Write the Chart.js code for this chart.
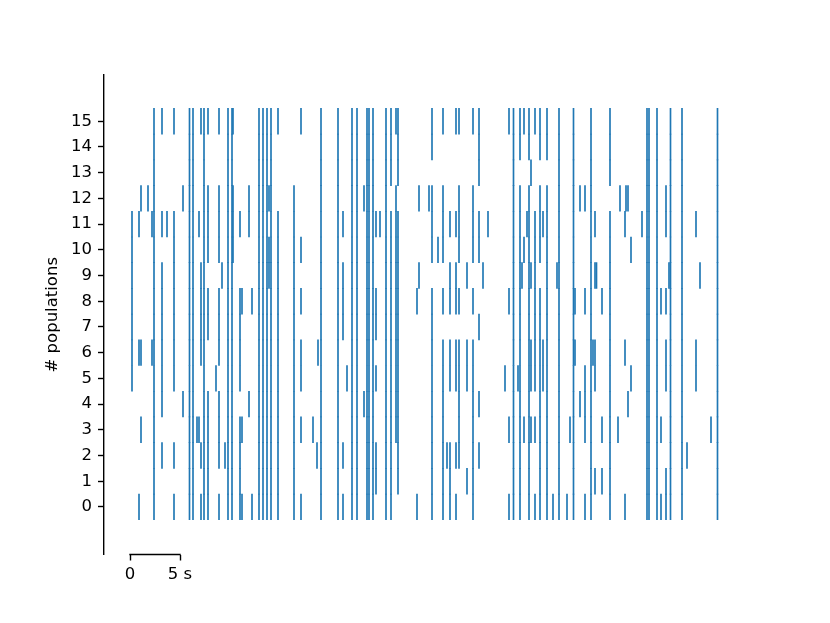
<!DOCTYPE html>
<html>
<head>
<meta charset="utf-8">
<script src="https://cdn.jsdelivr.net/npm/chart.js@4/dist/chart.umd.min.js"></script>
<style>
  html, body { margin: 0; padding: 0; background: #fff; }
  #wrap { width: 830px; height: 623px; }
</style>
</head>
<body>
<div id="wrap"><canvas id="raster" width="830" height="623"></canvas></div>
<script>
// population indices shown on the y axis
const popTicks = [0, 1, 2, 3, 4, 5, 6, 7, 8, 9, 10, 11, 12, 13, 14, 15];
// scale bar ticks (seconds) and their labels
const barTicks = [0, 5];
const barLabels = ["0", "5 s"];

const span = (a, b) => popTicks.filter(p => p >= a && p <= b);
const ALL = popTicks;
const allBut = (...skip) => popTicks.filter(p => !skip.includes(p));

// spike times (s), read column by column off the raster
const eventTimes = [
  0.2, 0.9, 1.1, 1.8, 2.2, 2.4, 3.2, 3.7, 4.4, 5.3,
  5.95, 6.3, 6.7, 6.9, 7.1, 7.4, 7.8, 8.6, 8.9, 9.2,
  9.5, 9.8, 10.2, 10.3, 11.0, 11.2, 11.9, 12.2, 12.9, 13.3,
  13.7, 13.9, 14.1, 14.8, 16.4, 17.1, 18.3, 18.7, 18.8, 19.1,
  20.8, 21.3, 21.7, 22.2, 22.7, 23.4, 23.7, 23.9, 24.3, 24.6,
  25.0, 25.6, 26.1, 26.6, 26.8, 28.7, 28.9, 29.9, 30.2, 30.8,
  31.3, 31.7, 32.0, 32.6, 32.9, 33.7, 34.3, 34.9, 35.3, 35.8,
  37.5, 37.9, 38.35, 38.8, 39.0, 39.2, 39.4, 39.7, 39.9, 40.1,
  40.5, 41.0, 41.3, 41.7, 42.3, 42.7, 42.9, 43.7, 44.0, 44.35,
  44.5, 45.0, 45.5, 46.1, 46.3, 46.5, 46.65, 47.2, 48.0, 48.8,
  49.0, 49.5, 49.6, 49.8, 50.1, 51.2, 51.7, 51.9, 52.7, 53.1,
  53.6, 53.9, 54.05, 55.2, 55.7, 56.6, 57.0, 58.1, 58.75
];

// populations firing at each of those times (same order)
const eventPops = [
  // 0.2 .. 5.3
  span(5, 11), [0, 6, 11], [3, 6, 12], [12], [6, 11], ALL,
  [2, 4, 5, 6, 7, 8, 9, 11, 15], [11], [0, 2, 5, 6, 7, 8, 9, 10, 11, 15], [4, 12],
  // 5.95 .. 9.2
  ALL, ALL, [3], [3, 11], [0, 2, 6, 7, 8, 9, 15], ALL,
  [0, 1, 2, 3, 4, 7, 8, 10, 11, 12, 15], [5], [0, 2, 3, 4, 6, 7, 8, 10, 11, 12, 15], [9],
  // 9.5 .. 13.3
  [2], ALL, ALL, [10, 11, 12, 15], [0, 1, 2, 3, 5, 6, 7, 8, 11], [0, 3, 8],
  [4, 11, 12], [0, 8], ALL, ALL,
  // 13.7 .. 19.1
  ALL, [9, 10, 12], ALL, [...span(0, 11), 15], span(0, 12), [0, 3, 5, 6, 8, 10, 15],
  [3], [2], [6], ALL,
  // 20.8 .. 24.6
  ALL, [0, 2, 7, 8, 9, 11], [5], ALL, ALL, [4, 12], ALL, ALL, ALL, [1, 2, 5, 7, 8, 11],
  // 25.0 .. 30.8
  [11], ALL, allBut(12), [...span(3, 12), 15], [...span(1, 11), 13, 14, 15], [0, 8],
  [9, 12], [12], [...span(0, 8), 10, 11, 12, 14, 15], [10],
  // 31.3 .. 35.8
  [0, 1, 2, 3, 4, 5, 6, 8, 10, 11, 12, 15], [2], [0, 1, 2, 5, 6, 8, 9, 11],
  [0, 2, 5, 6, 8, 9, 11, 15], [2, 3, 4, 5, 6, 8, 10, 11, 12, 15], [1, 5, 6, 9],
  [0, 1, 2, 3, 4, 5, 6, 8, 10, 11, 12, 15], [2, 4, 7, 10, 11, 13, 14, 15], [9], [11],
  // 37.5 .. 40.1
  [5], [0, 3, 8, 15], ALL, [5], allBut(13), [9], [3, 10, 15], [11], allBut(13), [3, 5, 6, 9, 13],
  // 40.5 .. 44.35
  [0, 3, 5, 6, 7, 8, 9, 10, 11, 15], allBut(9, 13), [5, 6, 11], allBut(13), [0], [9],
  ALL, [0], [3], ALL,
  // 44.5 .. 48.8
  [6, 8], [4, 12], [0, 3, 4, 5, 8, 12], ALL, [6], [1, 5, 6, 9, 11], [9], [1, 3, 8],
  allBut(12), [3],
  // 49.0 .. 53.1
  [12], [0, 6, 11], [12], [4, 12], [5, 10], [11], ALL, ALL, ALL, [0, 3, 8],
  // 53.6 .. 58.75
  [0, 1, 5, 6, 8, 11, 12], [9], ALL, ALL, [2], [5, 6, 11], [9], [3], ALL
];

const segments = [];
eventTimes.forEach((t, i) => {
  eventPops[i].forEach(p => segments.push({ x: t, y: [p - 0.5, p + 0.5] }));
});

const FONT = "'DejaVu Sans', sans-serif";

// horizontal part of the time scale bar, between the two x ticks
const scaleBar = {
  id: "scaleBar",
  afterDraw(chart) {
    const { ctx, chartArea, scales } = chart;
    const x0 = scales.x.getPixelForValue(barTicks[0]);
    const x1 = scales.x.getPixelForValue(barTicks[1]);
    ctx.save();
    ctx.strokeStyle = "#000";
    ctx.lineWidth = 1.4;
    ctx.beginPath();
    ctx.moveTo(x0 - 0.7, chartArea.bottom);
    ctx.lineTo(x1 + 0.7, chartArea.bottom);
    ctx.stroke();
    ctx.restore();
  },
};

new Chart(document.getElementById("raster"), {
  type: "bar",
  data: {
    datasets: [
      {
        label: "spikes",
        data: segments,
        backgroundColor: "#1f77b4",
        borderWidth: 0,
        barThickness: 1,
        grouped: false,
      },
    ],
  },
  options: {
    responsive: false,
    animation: false,
    devicePixelRatio: 1,
    layout: { padding: { left: 0, right: 83, top: 75, bottom: 0 } },
    plugins: {
      legend: { display: false },
      tooltip: { enabled: false },
    },
    scales: {
      x: {
        type: "linear",
        min: -2.6,
        max: 61.7,
        offset: false,
        afterBuildTicks: axis => {
          axis.ticks = barTicks.map(v => ({ value: v }));
        },
        afterFit: s => { s.height = 68.5; },
        border: { display: false },
        grid: {
          offset: false,
          drawOnChartArea: false,
          tickLength: 6,
          tickWidth: 1.4,
          tickColor: "#000",
        },
        ticks: {
          color: "#000",
          padding: 4,
          maxRotation: 0,
          font: { family: FONT, size: 16.5 },
          callback: v => barLabels[barTicks.indexOf(v)],
        },
      },
      y: {
        type: "linear",
        min: -1.85,
        max: 16.8,
        afterBuildTicks: axis => {
          axis.ticks = popTicks.map(v => ({ value: v }));
        },
        afterFit: s => { s.width = 104; },
        border: { display: true, color: "#000", width: 1.4 },
        grid: {
          drawOnChartArea: false,
          tickLength: 6,
          tickWidth: 1.4,
          tickColor: "#000",
        },
        ticks: {
          color: "#000",
          padding: 6,
          font: { family: FONT, size: 16.5 },
        },
        title: {
          display: true,
          text: "# populations",
          color: "#000",
          padding: { top: 43, bottom: 0 },
          font: { family: FONT, size: 16.5 },
        },
      },
    },
  },
  plugins: [scaleBar],
});
</script>
</body>
</html>
